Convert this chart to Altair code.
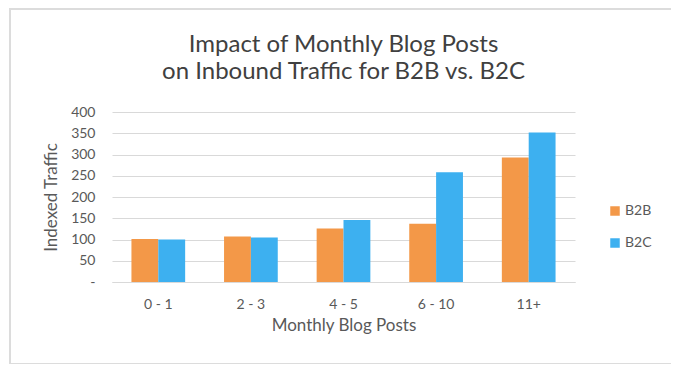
import altair as alt
import pandas as pd

categories = ["0 - 1", "2 - 3", "4 - 5", "6 - 10", "11+"]
b2b = [101, 107, 126, 137, 293]
b2c = [100, 105, 146, 258, 352]
series = ["B2B", "B2C"]
colors = ["#F39848", "#3DB0F0"]
y_ticks = [0, 50, 100, 150, 200, 250, 300, 350, 400]
title_lines = ["Impact of Monthly Blog Posts", "on Inbound Traffic for B2B vs. B2C"]

rows = []
for c, a, b in zip(categories, b2b, b2c):
    rows.append({"posts": c, "series": "B2B", "traffic": a})
    rows.append({"posts": c, "series": "B2C", "traffic": b})
df = pd.DataFrame(rows)

FONT = "Lato"
GRAY = "#595959"

bars = alt.Chart(df).mark_bar().encode(
    x=alt.X("posts:N", sort=categories,
            scale=alt.Scale(paddingInner=0.42, paddingOuter=0.21),
            axis=alt.Axis(title="Monthly Blog Posts", labelAngle=0, ticks=False,
                          domain=True, domainColor="#D9D9D9", labelPadding=15,
                          titlePadding=6, labelFontSize=14, titleFontSize=17,
                          labelColor=GRAY, titleColor=GRAY, titleFontWeight="normal")),
    xOffset=alt.XOffset("series:N", sort=series),
    y=alt.Y("traffic:Q", scale=alt.Scale(domain=[0, 400], nice=False),
            axis=alt.Axis(title="Indexed Traffic", values=y_ticks, ticks=False,
                          domain=False, grid=True, gridColor="#D9D9D9",
                          labelPadding=17, titlePadding=10, labelFontSize=14,
                          titleFontSize=17, labelColor=GRAY, titleColor=GRAY,
                          titleFontWeight="normal",
                          labelExpr="datum.value == 0 ? '-\u00a0\u00a0' : datum.label")),
    color=alt.Color("series:N", sort=series,
                    scale=alt.Scale(domain=series, range=colors),
                    legend=alt.Legend(title=None, orient="none", legendX=496, legendY=92,
                                      symbolType="square", symbolSize=90,
                                      symbolStrokeWidth=0, labelFontSize=14,
                                      labelColor=GRAY, rowPadding=18, labelOffset=3)),
)

frame = alt.Chart(pd.DataFrame({"a": [0]})).mark_rect(
    fill=None, stroke="#DCDCDC", strokeWidth=2
).encode(
    x=alt.value(-102), x2=alt.value(560), y=alt.value(-103), y2=alt.value(252)
)

title_df = pd.DataFrame({"line": title_lines, "i": [0, 1]})
title = alt.Chart(title_df).mark_text(
    font=FONT, fontSize=24, color="#404040", align="center", baseline="alphabetic"
).encode(
    text="line:N",
    x=alt.value(231.5),
    y=alt.Y("i:Q", scale=alt.Scale(domain=[0, 1], range=[-60, -33]), axis=None),
)

chart = alt.layer(frame, title, bars).resolve_scale(y="independent").properties(
    width=463, height=170,
    autosize=alt.AutoSizeParams(type="none"),
    padding={"left": 104, "top": 104, "right": 96, "bottom": 82},
).configure(font=FONT).configure_view(stroke=None)

chart.save("out.html", embed_options={"renderer": "svg", "actions": False})
